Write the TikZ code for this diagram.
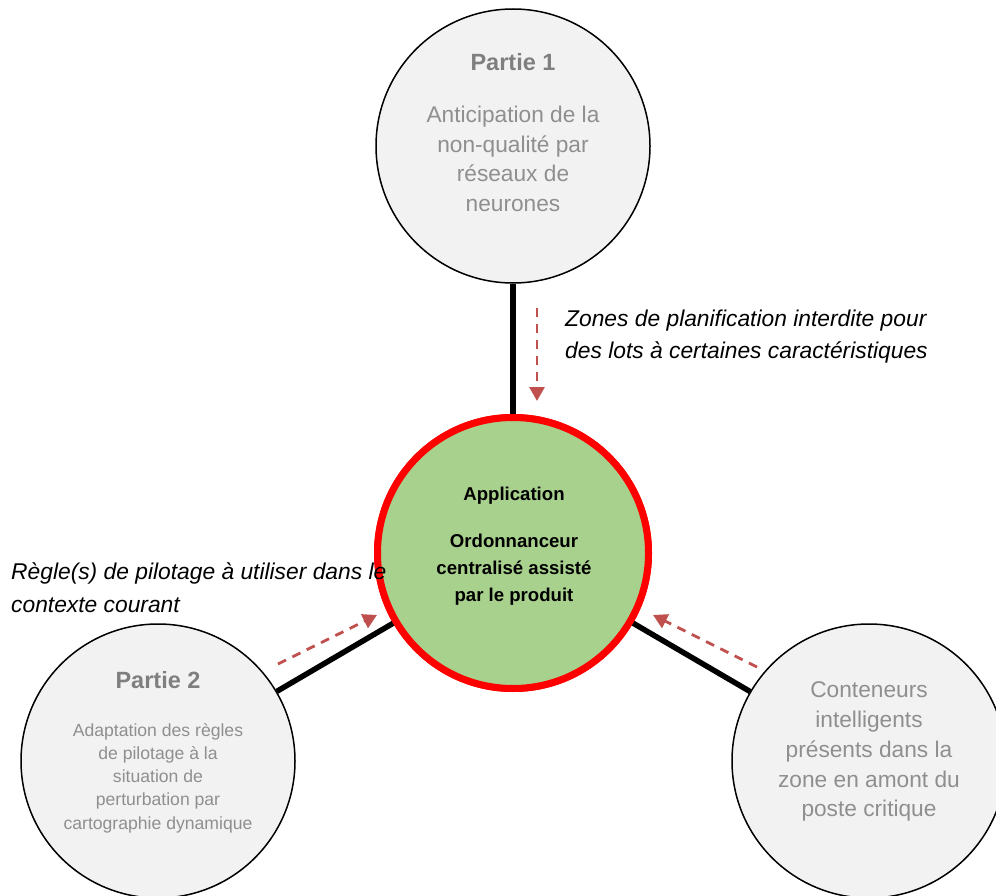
\documentclass[tikz,border=0pt]{standalone}
\usepackage{fontspec}
\setmainfont{Liberation Sans}
\usetikzlibrary{arrows.meta}
\definecolor{greyfill}{HTML}{F2F2F2}
\definecolor{headgrey}{HTML}{7F7F7F}
\definecolor{bodygrey}{HTML}{8F8F8F}
\definecolor{ringred}{HTML}{FF0000}
\definecolor{appgreen}{HTML}{A9D18E}
\definecolor{arrowred}{HTML}{C0504D}
\tikzset{
  partcircle/.style={circle, draw=black, line width=1.5pt, fill=greyfill, minimum size=274pt, inner sep=0pt},
  appcircle/.style={circle, draw=ringred, line width=7pt, fill=appgreen, minimum size=271pt, inner sep=0pt},
  link/.style={line width=5.5pt, draw=black},
  flow/.style={draw=arrowred, line width=2.8pt, dash pattern=on 9pt off 7pt, -{Triangle[width=15pt,length=14pt]}},
  txt/.style={anchor=base, inner sep=0pt},
  headtxt/.style={txt, text=headgrey, font=\bfseries\fontsize{23.5}{28}\selectfont},
  bodytxt/.style={txt, text=bodygrey, font=\fontsize{22.7}{29}\selectfont},
  smalltxt/.style={txt, text=bodygrey, font=\fontsize{17.6}{23}\selectfont},
  apptxt/.style={txt, text=black, font=\bfseries\fontsize{18.6}{26}\selectfont},
  labeltxt/.style={anchor=base west, inner sep=0pt, text=black, font=\itshape\fontsize{22.8}{31}\selectfont}
}
\begin{document}
\begin{tikzpicture}[x=1pt,y=-1pt]
\useasboundingbox (0,0) rectangle (996,896);
\clip (0,0) rectangle (996,896);
% circles
\node[partcircle] (p1) at (513,146) {};
\node[partcircle] (p2) at (158,761) {};
\node[partcircle] (p3) at (869,761) {};
\node[appcircle] (app) at (513,553) {};
% links
\draw[link] (p1) -- (app);
\draw[link] (p2) -- (app);
\draw[link] (p3) -- (app);
% redraw centre circle ring above links
\node[appcircle] (app2) at (513,553) {};
% texts top
\node[headtxt] (p1h) at (513,71) {Partie 1};
\node[bodytxt] (p1a) at (513,123) {Anticipation de la};
\node[bodytxt] (p1b) at (513,152.5) {non-qualité par};
\node[bodytxt] (p1c) at (513,182) {réseaux de};
\node[bodytxt] (p1d) at (513,211.5) {neurones};
% centre
\node[apptxt] (a1) at (514,500) {Application};
\node[apptxt] (a2) at (514,547) {Ordonnanceur};
\node[apptxt] (a3) at (514,574) {centralisé assisté};
\node[apptxt] (a4) at (514,601) {par le produit};
% left
\node[headtxt] (p2h) at (158,688) {Partie 2};
\node[smalltxt] (p2a) at (158,736) {Adaptation des règles};
\node[smalltxt] (p2b) at (158,759) {de pilotage à la};
\node[smalltxt] (p2c) at (158,782) {situation de};
\node[smalltxt] (p2d) at (158,805) {perturbation par};
\node[smalltxt] (p2e) at (158,829) {cartographie dynamique};
% right
\node[bodytxt] (p3a) at (869,697) {Conteneurs};
\node[bodytxt] (p3b) at (869,727) {intelligents};
\node[bodytxt] (p3c) at (869,757) {présents dans la};
\node[bodytxt] (p3d) at (869,787) {zone en amont du};
\node[bodytxt] (p3e) at (869,816) {poste critique};
% labels
\node[labeltxt] (l1a) at (565,326) {Zones de planification interdite pour};
\node[labeltxt] (l1b) at (565,358) {des lots à certaines caractéristiques};
\node[labeltxt] (l2a) at (11,579) {Règle(s) de pilotage à utiliser dans le};
\node[labeltxt] (l2b) at (11,612) {contexte courant};
% dashed arrows
\coordinate (t1s) at (537,308);
\coordinate (t1e) at (537,401);
\coordinate (t2s) at (278,664);
\coordinate (t2e) at (377,615);
\coordinate (t3s) at (757,667);
\coordinate (t3e) at (653,615);
\draw[flow] (t1s) -- (t1e);
\draw[flow] (t2s) -- (t2e);
\draw[flow] (t3s) -- (t3e);
\end{tikzpicture}
\end{document}
